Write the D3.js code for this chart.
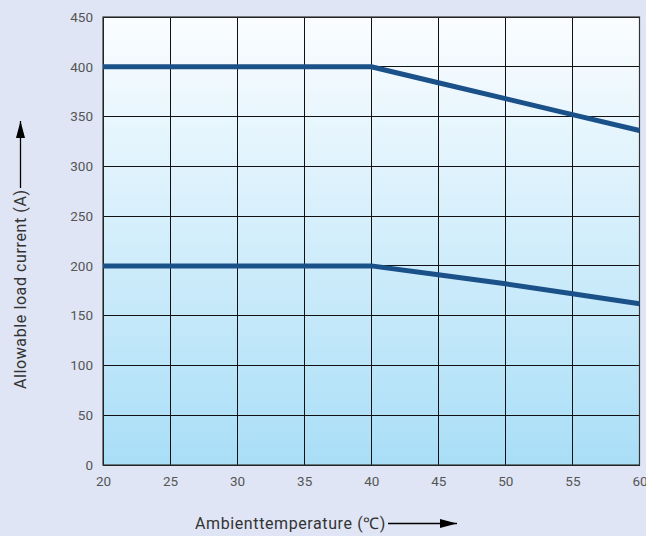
<!DOCTYPE html>
<html><head><meta charset="utf-8">
<script src="https://cdn.jsdelivr.net/npm/d3@7"></script>
<style>body{margin:0;background:#dfe5f4;}svg{display:block;}</style>
</head><body>
<svg id="c" width="646" height="536"></svg>
<script>
const temps = [20, 25, 30, 35, 40, 45, 50, 55, 60];
const upperSeries = [400, 400, 400, 400, 400, 384, 368, 352, 336];
const lowerSeries = [200, 200, 200, 200, 200, 191, 182, 172, 162];
const xTicks = [20, 25, 30, 35, 40, 45, 50, 55, 60];
const yTicks = [0, 50, 100, 150, 200, 250, 300, 350, 400, 450];
const xTitle = "Ambienttemperature (℃)";
const yTitle = "Allowable load current (A)";

const svg = d3.select("#c");
const L = 103, R = 639.5, T = 17, B = 465;
const x = d3.scaleLinear().domain([20, 60]).range([L, R]);
const y = d3.scaleLinear().domain([0, 450]).range([B, T]);

const defs = svg.append("defs");
const g = defs.append("linearGradient").attr("id","bg").attr("x1",0).attr("y1",0).attr("x2",0).attr("y2",1);
g.append("stop").attr("offset","0%").attr("stop-color","#fbfdff");
g.append("stop").attr("offset","100%").attr("stop-color","#a9def7");
const ah = defs.append("marker").attr("id","ah").attr("viewBox","0 0 10 10").attr("refX",10).attr("refY",5)
  .attr("markerWidth",17).attr("markerHeight",9).attr("preserveAspectRatio","none")
  .attr("markerUnits","userSpaceOnUse").attr("orient","auto");
ah.append("path").attr("d","M0,0L10,5L0,10Z").attr("fill","#000");

svg.append("rect").attr("x",L).attr("y",T).attr("width",R-L).attr("height",B-T).attr("fill","url(#bg)");

// grid
svg.append("g").selectAll("line").data(xTicks).join("line")
  .attr("x1",d=>x(d)).attr("x2",d=>x(d)).attr("y1",T).attr("y2",B)
  .attr("stroke","#111").attr("stroke-width",1).attr("shape-rendering","crispEdges");
svg.append("g").selectAll("line").data(yTicks).join("line")
  .attr("x1",L).attr("x2",R).attr("y1",d=>y(d)).attr("y2",d=>y(d))
  .attr("stroke","#111").attr("stroke-width",1).attr("shape-rendering","crispEdges");
svg.append("rect").attr("x",L).attr("y",T).attr("width",R-L).attr("height",B-T)
  .attr("fill","none").attr("stroke","#333").attr("stroke-width",1.2);

// axes labels via d3 axes
const xAxis = svg.append("g").attr("transform",`translate(0,${B})`)
  .call(d3.axisBottom(x).tickValues(xTicks).tickSize(0).tickPadding(11));
const yAxis = svg.append("g").attr("transform",`translate(${L},0)`)
  .call(d3.axisLeft(y).tickValues(yTicks).tickSize(0).tickPadding(10));
[xAxis, yAxis].forEach(a=>{
  a.select(".domain").remove();
  a.selectAll("text").attr("font-family","Roboto, sans-serif").attr("font-size",13.5).attr("fill","#555");
});

// lines
const line = d3.line().x((d,i)=>x(temps[i])).y(d=>y(d));
[upperSeries, lowerSeries].forEach(s=>{
  svg.append("path").datum(s).attr("d",line).attr("fill","none")
    .attr("stroke","#1b5189").attr("stroke-width",5).attr("stroke-linejoin","round");
});

// titles
svg.append("text").attr("x",386).attr("y",529).attr("text-anchor","end")
  .attr("font-family","Roboto, sans-serif").attr("font-size",16).attr("letter-spacing",0.6)
  .attr("fill","#333").text(xTitle);
svg.append("line").attr("x1",388).attr("x2",457).attr("y1",523.5).attr("y2",523.5)
  .attr("stroke","#000").attr("stroke-width",1.3).attr("marker-end","url(#ah)");

svg.append("text").attr("transform","translate(26,389) rotate(-90)")
  .attr("font-family","Roboto, sans-serif").attr("font-size",16).attr("letter-spacing",0.6)
  .attr("fill","#333").text(yTitle);
svg.append("line").attr("x1",20.5).attr("x2",20.5).attr("y1",188).attr("y2",121)
  .attr("stroke","#000").attr("stroke-width",1.3).attr("marker-end","url(#ah)");
</script>
</body></html>
